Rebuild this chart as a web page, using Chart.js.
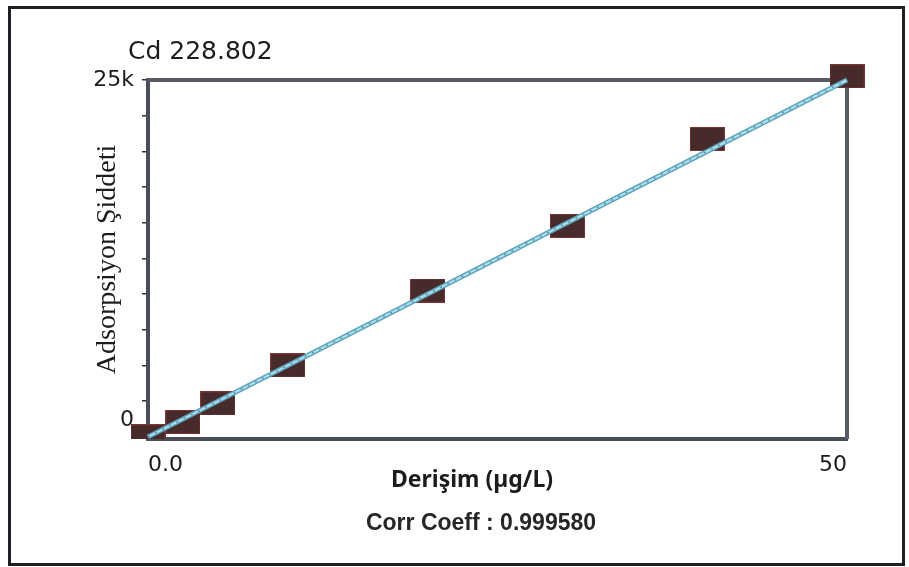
<!DOCTYPE html>
<html>
<head>
<meta charset="utf-8">
<script src="https://cdn.jsdelivr.net/npm/chart.js@4.4.1/dist/chart.umd.min.js"></script>
<style>
  html, body { margin: 0; padding: 0; background: #ffffff; }
  #c { display: block; background: #ffffff; }
</style>
</head>
<body>
<canvas id="c" width="909" height="567"></canvas>
<script>
// ---- texts ----
const chartTitle = 'Cd 228.802';
const xAxisTitle = 'Derişim (µg/L)';
const yAxisTitle = 'Adsorpsiyon Şiddeti';
const corrText = 'Corr Coeff : 0.999580';

// ---- data ----
const concentrations = [0, 2.5, 5, 10, 20, 30, 40, 50];
const intensities = [30, 1050, 2340, 5000, 10250, 14780, 20870, 25250];
const fitX = [0, 50];
const fitY = [0, 25000];

// ---- ticks ----
const xTickValues = [0, 5, 10, 15, 20, 25, 30, 35, 40, 45, 50];
const xTickLabels = { 0: '0.0', 50: '50' };
const yTickValues = [0, 2500, 5000, 7500, 10000, 12500, 15000, 17500, 20000, 22500, 25000];
const yTickLabels = { 0: ['0', ''], 25000: '25k' };

// marker: dark brown rectangle
function makeMarker() {
  const m = document.createElement('canvas');
  m.width = 35; m.height = 24;
  const g = m.getContext('2d');
  g.fillStyle = '#7c3434';
  g.fillRect(0, 0, 35, 24);
  g.fillStyle = '#472a2a';
  g.fillRect(1, 1, 33, 22);
  return m;
}
const marker = makeMarker();

const points = concentrations.map((x, i) => ({ x: x, y: intensities[i] }));
const fitPoints = fitX.map((x, i) => ({ x: x, y: fitY[i] }));

const decor = {
  id: 'decor',
  beforeDatasetsDraw(chart) {
    const { ctx, chartArea: a } = chart;
    ctx.save();
    ctx.strokeStyle = '#575b63';
    ctx.lineWidth = 4;
    ctx.beginPath();
    ctx.moveTo(a.left, a.top);
    ctx.lineTo(a.right, a.top);
    ctx.lineTo(a.right, a.bottom);
    ctx.stroke();
    ctx.restore();
  },
  afterDraw(chart) {
    const ctx = chart.ctx;
    ctx.save();
    // outer frame
    ctx.strokeStyle = '#1e1e24';
    ctx.lineWidth = 3;
    ctx.strokeRect(9.5, 7.5, 894, 557);
    ctx.fillStyle = '#1c1c1c';
    // title
    ctx.font = '25px "DejaVu Sans"';
    ctx.textAlign = 'left';
    ctx.textBaseline = 'alphabetic';
    ctx.fillText(chartTitle, 128, 59);
    // x axis title
    ctx.font = 'bold 23px "Noto Sans"';
    ctx.textAlign = 'center';
    ctx.fillText(xAxisTitle, 472, 487);
    // correlation text
    ctx.fillStyle = '#262626';
    ctx.font = 'bold 23px "Liberation Sans"';
    ctx.fillText(corrText, 481, 530);
    ctx.restore();
  }
};

new Chart(document.getElementById('c'), {
  type: 'scatter',
  data: {
    datasets: [
      {
        label: 'fit-edge',
        data: fitPoints,
        showLine: true,
        borderColor: '#5aa2bf',
        borderWidth: 5,
        pointRadius: 0,
        order: 2,
        clip: false
      },
      {
        label: 'fit-core',
        data: fitPoints,
        showLine: true,
        borderColor: '#ade2ec',
        borderWidth: 2,
        pointRadius: 0,
        order: 1,
        clip: false
      },
      {
        label: 'fit-dash',
        data: fitPoints,
        showLine: true,
        borderColor: 'rgba(25,45,70,0.5)',
        borderWidth: 1.3,
        borderDash: [2, 6],
        pointRadius: 0,
        order: 0,
        clip: false
      },
      {
        label: 'Standards',
        data: points,
        pointStyle: marker,
        pointRadius: 17,
        showLine: false,
        order: 3,
        clip: { left: false, top: false, right: false, bottom: 0 }
      }
    ]
  },
  options: {
    responsive: false,
    animation: false,
    layout: { padding: { left: 88, right: 62, top: 80, bottom: 0 } },
    plugins: {
      legend: { display: false },
      tooltip: { enabled: false },
      title: { display: false }
    },
    scales: {
      x: {
        type: 'linear',
        min: 0,
        max: 50,
        afterBuildTicks: (s) => { s.ticks = xTickValues.map(v => ({ value: v })); },
        afterFit: (s) => { s.height = 128; },
        grid: { display: false, drawTicks: false },
        border: { display: true, color: '#4a4e58', width: 4 },
        ticks: {
          autoSkip: false,
          maxRotation: 0,
          align: 'inner',
          padding: 13,
          color: '#1c1c1c',
          font: { family: 'DejaVu Sans', size: 22 },
          callback: (v) => (xTickLabels[v] !== undefined ? xTickLabels[v] : '')
        },
        title: { display: false }
      },
      y: {
        type: 'linear',
        min: -150,
        max: 25000,
        afterBuildTicks: (s) => { s.ticks = yTickValues.map(v => ({ value: v })); },
        afterFit: (s) => { s.width = 60; },
        grid: { display: true, drawOnChartArea: false, drawTicks: true, tickLength: 6, color: '#333333', lineWidth: 1.5 },
        border: { display: true, color: '#4a4e58', width: 4 },
        ticks: {
          autoSkip: false,
          padding: 8,
          color: '#1c1c1c',
          font: { family: 'DejaVu Sans', size: 22, lineHeight: 1.5 },
          callback: (v) => (yTickLabels[v] !== undefined ? yTickLabels[v] : '')
        },
        title: {
          display: true,
          text: yAxisTitle,
          color: '#1c1c1c',
          font: { family: 'Liberation Serif', size: 28, lineHeight: 1.2 },
          padding: { top: 3, bottom: 0 }
        }
      }
    }
  },
  plugins: [decor]
});
</script>
</body>
</html>
